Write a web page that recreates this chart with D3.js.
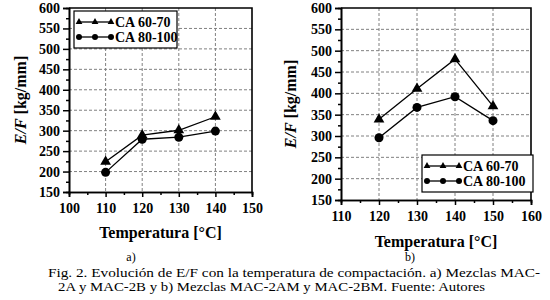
<!DOCTYPE html>
<html>
<head>
<meta charset="utf-8">
<script src="https://cdn.jsdelivr.net/npm/d3@7"></script>
<style>
  body { margin: 0; background: #fff; }
  svg { display: block; }
  text { font-family: "Liberation Serif", "DejaVu Serif", serif; }
</style>
</head>
<body>
<div id="chart"></div>
<script>
// data
var tempsA = [110, 120, 130, 140];
var ca6070A = [224, 289, 301, 334];
var ca80100A = [198, 279, 284, 299];

var tempsB = [120, 130, 140, 150];
var ca6070B = [339, 411, 480, 370];
var ca80100B = [296, 367, 392, 336];

var seriesNames = ["CA 60-70", "CA 80-100"];
var yTicks = [150, 200, 250, 300, 350, 400, 450, 500, 550, 600];
var xTicksA = [100, 110, 120, 130, 140, 150];
var xTicksB = [110, 120, 130, 140, 150, 160];

var serif = "Liberation Serif, DejaVu Serif, serif";

var svg = d3.select("#chart")
    .append("svg")
    .attr("width", 550)
    .attr("height", 300);

function drawPanel(opt) {
    var x = d3.scaleLinear().domain(opt.xDomain).range(opt.xRange);
    var y = d3.scaleLinear().domain([150, 600]).range(opt.yRange);
    var g = svg.append("g");

    var left = opt.xRange[0], right = opt.xRange[1];
    var top = opt.yRange[1], bottom = opt.yRange[0];

    // dashed grid
    g.selectAll(".gx")
        .data(opt.xTicks.slice(1, -1))
        .enter()
        .append("line")
        .attr("x1", d => x(d)).attr("x2", d => x(d))
        .attr("y1", top).attr("y2", bottom)
        .attr("stroke", "#808080")
        .attr("stroke-width", 1)
        .attr("stroke-dasharray", "3,2");
    g.selectAll(".gy")
        .data(yTicks.slice(1, -1))
        .enter()
        .append("line")
        .attr("x1", left).attr("x2", right)
        .attr("y1", d => y(d)).attr("y2", d => y(d))
        .attr("stroke", "#808080")
        .attr("stroke-width", 1)
        .attr("stroke-dasharray", "3,2");

    // frame top / right
    g.append("path")
        .attr("d", "M" + left + "," + top + "H" + right + "V" + bottom)
        .attr("fill", "none")
        .attr("stroke", "#000")
        .attr("stroke-width", 1.6);

    // axes
    var ax = g.append("g")
        .attr("transform", "translate(0," + bottom + ")")
        .call(d3.axisBottom(x).tickValues(opt.xTicks).tickSize(5).tickPadding(6).tickFormat(d3.format("d")));
    var axMinor = g.append("g")
        .attr("transform", "translate(0," + bottom + ")")
        .call(d3.axisBottom(x).tickValues(opt.xTicks.slice(0, -1).map(d => d + 5)).tickSize(3).tickFormat(""));
    var ay = g.append("g")
        .attr("transform", "translate(" + left + ",0)")
        .call(d3.axisLeft(y).tickValues(yTicks).tickSize(6).tickPadding(3));
    var ayMinor = g.append("g")
        .attr("transform", "translate(" + left + ",0)")
        .call(d3.axisLeft(y).tickValues(yTicks.slice(0, -1).map(d => d + 25)).tickSize(3).tickFormat(""));

    [ax, axMinor, ay, ayMinor].forEach(function (a) {
        a.attr("font-family", serif);
        a.select(".domain").attr("stroke-width", 1.6);
        a.selectAll(".tick line").attr("stroke-width", 1.5);
        a.selectAll("text")
            .attr("font-family", serif)
            .attr("font-weight", "bold")
            .attr("font-size", 14)
            .attr("fill", "#000");
    });

    // axis titles
    g.append("text")
        .attr("x", (left + right) / 2)
        .attr("y", opt.xTitleY)
        .attr("text-anchor", "middle")
        .attr("font-family", serif)
        .attr("font-weight", "bold")
        .attr("font-size", 16)
        .text("Temperatura [°C]");

    var yt = g.append("text")
        .attr("transform", "translate(" + opt.yTitleX + "," + (top + bottom) / 2 + ") rotate(-90)")
        .attr("text-anchor", "middle")
        .attr("font-family", serif)
        .attr("font-weight", "bold")
        .attr("font-size", 16);
    yt.append("tspan").attr("font-style", "italic").text("E/F");
    yt.append("tspan").text(" [kg/mm]");

    // series
    var line = d3.line().x(d => x(d[0])).y(d => y(d[1]));
    var tri = d3.symbol().type(d3.symbolTriangle).size(50);
    var sets = [
        { vals: opt.s1, shape: "tri" },
        { vals: opt.s2, shape: "circle" }
    ];
    sets.forEach(function (s) {
        var pts = opt.temps.map((t, i) => [t, s.vals[i]]);
        g.append("path")
            .datum(pts)
            .attr("d", line)
            .attr("fill", "none")
            .attr("stroke", "#000")
            .attr("stroke-width", 1.3);
        if (s.shape === "tri") {
            g.selectAll(null)
                .data(pts)
                .enter()
                .append("path")
                .attr("d", tri)
                .attr("transform", d => "translate(" + x(d[0]) + "," + y(d[1]) + ")")
                .attr("fill", "#000");
        } else {
            g.selectAll(null)
                .data(pts)
                .enter()
                .append("circle")
                .attr("cx", d => x(d[0]))
                .attr("cy", d => y(d[1]))
                .attr("r", 4.5)
                .attr("fill", "#000");
        }
    });

    // legend
    var lg = g.append("g").attr("transform", "translate(" + opt.legend[0] + "," + opt.legend[1] + ")");
    lg.append("rect")
        .attr("width", opt.legendW)
        .attr("height", 37)
        .attr("fill", "#fff")
        .attr("stroke", "#000")
        .attr("stroke-width", 1.2);
    var smallTri = d3.symbol().type(d3.symbolTriangle).size(20);
    seriesNames.forEach(function (name, i) {
        var yy = 11 + i * 15;
        lg.append("line")
            .attr("x1", 5).attr("x2", 37)
            .attr("y1", yy).attr("y2", yy)
            .attr("stroke", "#000")
            .attr("stroke-width", 1.3);
        [5, 21, 37].forEach(function (mx) {
            if (i === 0) {
                lg.append("path").attr("d", smallTri)
                    .attr("transform", "translate(" + mx + "," + yy + ")");
            } else {
                lg.append("circle").attr("cx", mx).attr("cy", yy).attr("r", 3);
            }
        });
        lg.append("text")
            .attr("x", 41)
            .attr("y", yy + 5)
            .attr("font-family", serif)
            .attr("font-weight", "bold")
            .attr("font-size", 14)
            .text(name);
    });

    // panel label
    g.append("text")
        .attr("x", opt.tag[0])
        .attr("y", opt.tag[1])
        .attr("text-anchor", "middle")
        .attr("font-family", serif)
        .attr("font-size", 12)
        .text(opt.tagText);
}

drawPanel({
    xDomain: [100, 150], xRange: [69, 252], yRange: [192, 8],
    xTicks: xTicksA, temps: tempsA, s1: ca6070A, s2: ca80100A,
    xTitleY: 238, yTitleX: 26,
    legend: [74, 11], legendW: 103,
    tag: [131, 261], tagText: "a)"
});

drawPanel({
    xDomain: [110, 160], xRange: [341, 531], yRange: [200, 8],
    xTicks: xTicksB, temps: tempsB, s1: ca6070B, s2: ca80100B,
    xTitleY: 247, yTitleX: 296,
    legend: [422, 155], legendW: 111,
    tag: [410, 261], tagText: "b)"
});

// caption
var cap = svg.append("g")
    .attr("font-family", serif)
    .attr("font-size", 13);
cap.append("text")
    .attr("x", 48).attr("y", 277)
    .attr("textLength", 492)
    .attr("lengthAdjust", "spacingAndGlyphs")
    .text("Fig. 2. Evolución de E/F con la temperatura de compactación. a) Mezclas MAC-");
cap.append("text")
    .attr("x", 58).attr("y", 291)
    .attr("textLength", 427)
    .attr("lengthAdjust", "spacingAndGlyphs")
    .text("2A y MAC-2B y b) Mezclas MAC-2AM y MAC-2BM. Fuente: Autores");
</script>
</body>
</html>
